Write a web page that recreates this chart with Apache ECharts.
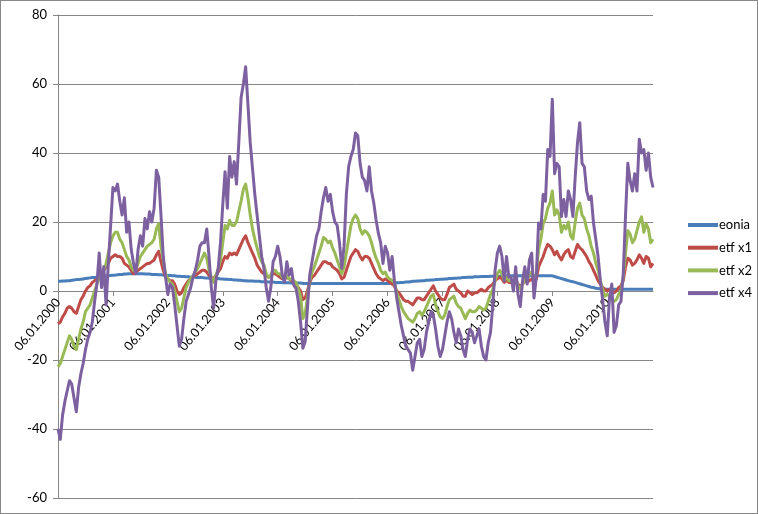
<!DOCTYPE html>
<html>
<head>
<meta charset="utf-8">
<script src="https://cdn.jsdelivr.net/npm/echarts@6/dist/echarts.min.js"></script>
<style>
html,body{margin:0;padding:0;background:#fff;}
#chart{width:758px;height:514px;box-sizing:border-box;border:1px solid #888;}
</style>
</head>
<body>
<div id="chart"></div>
<script>
// Category dates: semi-monthly observations from 06.01.2000 to 06.11.2010
const years = [2000,2001,2002,2003,2004,2005,2006,2007,2008,2009,2010];
const days = ['06','21'];
const lastCategory = '06.11.2010';
const categories = [];
(function(){
  let done = false;
  for (const y of years) {
    for (let m = 1; m <= 12 && !done; m++) {
      for (const d of days) {
        const s = d + '.' + (m < 10 ? '0' + m : '' + m) + '.' + y;
        categories.push(s);
        if (s === lastCategory) { done = true; break; }
      }
    }
  }
})();

const seriesNames = ['eonia','etf x1','etf x2','etf x4'];

const eonia = [
 2.8,2.8,2.9,2.9,3.0,3.0,3.1,3.2,3.3,3.3,3.4,3.5,3.6,3.7,3.8,3.9,3.9,4.0,4.1,4.2,4.3,4.4,4.4,4.5,
 4.6,4.6,4.7,4.8,4.8,4.9,4.9,5.0,5.0,5.0,5.0,5.0,5.0,5.0,4.9,4.9,4.9,4.8,4.8,4.8,4.7,4.7,4.6,4.6,
 4.5,4.5,4.4,4.4,4.3,4.3,4.2,4.2,4.1,4.1,4.0,4.0,4.0,3.9,3.9,3.9,3.8,3.8,3.7,3.7,3.7,3.6,3.6,3.5,
 3.5,3.4,3.4,3.3,3.3,3.2,3.2,3.1,3.1,3.0,3.0,2.9,2.9,2.9,2.8,2.8,2.8,2.7,2.7,2.7,2.6,2.6,2.6,2.5,
 2.5,2.5,2.4,2.4,2.4,2.4,2.3,2.3,2.3,2.3,2.3,2.2,2.2,2.2,2.2,2.2,2.2,2.2,2.2,2.2,2.2,2.2,2.2,2.2,
 2.2,2.2,2.2,2.2,2.2,2.2,2.2,2.2,2.2,2.2,2.2,2.2,2.2,2.2,2.2,2.2,2.2,2.2,2.2,2.2,2.2,2.2,2.2,2.2,
 2.2,2.2,2.3,2.3,2.4,2.4,2.5,2.5,2.6,2.6,2.7,2.8,2.8,2.9,2.9,3.0,3.0,3.1,3.1,3.2,3.2,3.3,3.3,3.4,
 3.4,3.5,3.5,3.6,3.6,3.7,3.7,3.8,3.8,3.9,3.9,4.0,4.0,4.0,4.1,4.1,4.1,4.2,4.2,4.2,4.2,4.3,4.3,4.3,
 4.3,4.3,4.4,4.4,4.4,4.4,4.4,4.4,4.4,4.4,4.4,4.4,4.4,4.4,4.4,4.4,4.4,4.4,4.4,4.4,4.4,4.4,4.4,4.4,
 4.4,4.2,4.0,3.8,3.6,3.4,3.2,3.0,2.8,2.7,2.5,2.3,2.1,1.9,1.7,1.5,1.3,1.1,1.0,0.8,0.7,0.6,0.6,0.5,
 0.5,0.5,0.5,0.5,0.5,0.5,0.5,0.5,0.5,0.5,0.5,0.5,0.5,0.5,0.5,0.5,0.5,0.5,0.5,0.5,0.5
];

const etfX1 = [
 -9.5,-9,-7.5,-6.5,-5,-4.5,-5,-6,-6.5,-4.5,-2.5,-1.5,0,1,1.5,2.5,3,3.5,5,5.5,6,7,8,9.5,
 10,10.5,10,10,9.5,8,7.5,7,6,5,5.5,6,6.5,7,7.5,8,8,8.5,9,10.5,11.5,8.5,6,4,
 3.5,3,3,2,0,-1,-0.5,1,2,3,3.5,4,4.5,5,5.5,6,6,5.5,4.5,4,3.5,4.5,5.5,6.5,
 8.5,10,9.5,11,10.5,11,10.5,12,13.5,15,16,14,12.5,11,9.5,7.5,6.5,5.5,5,4.5,4,4.5,5,5,
 4.5,4,3.5,3.5,4,3.5,3,2.5,2,1,0,-2.5,-2,0,2.5,4,4.5,5.5,6.5,7.5,8.5,8.5,8,8,
 7,6.5,6,5,3.5,4,6,8,10,11,12,11.5,10,9,10,10,9.5,8,6.5,5,4,3.5,3,3.5,
 3,2.5,2,1.5,0,-0.5,-1.5,-2.5,-3,-3,-3.5,-4,-3,-2,-2,-2.5,-2.5,-1.5,-0.5,0.5,1.5,0,-1,-2,
 -2.5,-2.5,-1,1,1.5,2,0.5,0,-0.5,-1.5,-1.5,0,-0.5,-1,-0.5,-0.5,0,0.5,0,0,1,1.5,2,3,
 3.5,4,3.5,2.5,3,2.5,2.5,2,3,2,1.5,2,3,2.5,3,3.5,2.5,3.5,7,8.5,10,12,13.5,13,
 12,10.5,11.5,10,9,10.5,11.5,12,10,9.5,11.5,13.5,12.5,12,11,10,8.5,7.5,6,4.5,3,2,1,0.5,
 0,0.5,0,-0.5,0,1,1.5,3,7,9.5,9,7.5,8,9,10.5,9.5,8,10,9.5,7,8
];

const etfX2 = [
 -22,-21,-19,-17,-15,-13,-14,-16,-17,-14,-11,-9,-6,-5,-4,-2,0,2,4,5,6,8,11,14,
 16,17,17,15,14,12,10,9,7,6,6,8,10,11,12,13,13.5,14,15,18,19.5,13,9,5,
 3.5,2.5,2,0,-3,-6,-5,-2,1,2.5,3.5,4.5,5.5,6.5,8,9.5,11,9.5,6,4,2.5,4.5,6.5,9,
 14,19,18,20.5,19,19,20,23,26,29.5,31,27,22,18,15,12.5,10,8.5,7.5,5,4,4.5,6,6,
 5,5,4,3.5,4.5,3.5,3.5,3,2.5,0.5,-1.5,-8,-6.5,-2,3,5.5,7,9,11,13,15.5,15,14,14.5,
 12.5,11,9,7,5,7,11,15,19,21,22,21,18,16.5,17.5,17,16,14,11.5,9.5,8,6,5,5.5,
 4,3.5,3,2.5,-0.5,-2.5,-4.5,-6,-7,-8,-8.5,-9,-8,-6.5,-6,-7,-6,-4.5,-3,-1.5,-1,-4,-6,-7.5,
 -8,-7,-4.5,-2.5,-2,-1.5,-3.5,-4.5,-5,-6.5,-8,-6.5,-5.5,-6,-6,-5.5,-4.5,-5,-5.5,-5,-3,-1,0.5,3,
 5,6,5,3,4,3,3,2,4,1.5,0.5,2,4,3,5,5.5,3,5,12,15,19.5,21,24,25.5,
 29,22,23.5,22,17,19,18,20,16,15,20,24,25.5,22,21,18,16,13,11,8,6,3,0.5,-1.5,
 -1,-1.5,-2,-3,-2.5,-1,0,4,11,17.5,16.5,14,15,17.5,20,21.5,17,19.5,18,14,15
];

const etfX4 = [
 -40,-43,-36,-32,-29,-26,-27,-31,-35,-28,-24,-21,-17,-14,-12,-9,-3,2,11,1,7,-4,8,19,
 30,29,31,26,22,27,17,20,12,8,5,12,16,13,21,18,23,20,24,35,33,22,10,4,
 -1,2,1,-4,-10,-16,-14,-8,-3,-1,1,4,6,9,13,14,14,18,10,1,-5,3,6.5,14,
 25,34.6,24,39,33,37.5,31,43,56,60,65,54,43,35.5,28,22,16,10,6.5,1,-3,1,8.5,10,
 13,10,4.6,2.7,8.5,4.6,6.5,1.7,0.8,-3,-9,-16.6,-14.7,-5,4.6,8.5,12.4,16,18,23,27,30,26,28,
 23,20,19,14,6.6,13,28,36,39,41,45.8,45,37,33,32,29,36,29,25.5,20.6,16.7,14,8,13,
 11,6,10,3,-2,-6,-10,-13,-16,-17,-18,-23,-19,-15,-14,-19,-17,-12,-9,-6,-7,-11,-16,-19,
 -17,-13,-9,-6,-8,-12,-15,-11,-13,-17,-19,-14,-11,-12,-15,-13,-11,-16,-19,-20,-15,-12,-4,6,
 11,13,10,3,10,4,4,0,7,-1,-4.5,3,7,2,9,11,-2,4,19.7,18,28,26,41,39,
 55.6,34,37,36,21.6,26.5,21.6,29,26.5,21.6,33,43,48.8,37,36,29,26.5,27.5,19.7,15,10,3,-2.6,-9,
 -13,-2,2,-12,-10,-4,-3,5,22,37,32,29,34,29,44,40,41,35,40,33,30
];

const yTicks = {min: -60, max: 80, interval: 20};
const colors = ['#4A7EBB','#BE4B48','#98B954','#7D60A0'];
const values = [eonia, etfX1, etfX2, etfX4];

const isYearStart = (idx, val) => String(val != null ? val : categories[idx]).indexOf('06.01.') === 0;

const chart = echarts.init(document.getElementById('chart'), null, {renderer: 'canvas'});
chart.setOption({
  animation: false,
  backgroundColor: '#fff',
  textStyle: {fontFamily: 'Lato, "Liberation Sans", sans-serif'},
  grid: {left: 57, right: 104, top: 14, bottom: 15, containLabel: false, outerBoundsMode: 'none'},
  legend: {
    orient: 'vertical',
    left: 682,
    top: 212,
    icon: 'rect',
    itemWidth: 30,
    itemHeight: 4,
    itemGap: 8.7,
    textStyle: {fontSize: 13, lineHeight: 14, color: '#000', fontFamily: 'Lato, sans-serif', padding: [0,0,0,-4]},
    data: seriesNames
  },
  xAxis: {
    type: 'category',
    data: categories,
    boundaryGap: false,
    axisLine: {onZero: false, lineStyle: {color: '#868686', width: 1}},
    axisTick: {show: true, interval: isYearStart, length: 5, inside: false, lineStyle: {color: '#868686'}},
    axisLabel: {interval: isYearStart, rotate: 50, margin: 9, fontSize: 12.5, color: '#000', fontFamily: 'Lato, sans-serif'},
    splitLine: {show: false}
  },
  yAxis: {
    type: 'value',
    min: yTicks.min, max: yTicks.max, interval: yTicks.interval,
    axisLine: {show: true, lineStyle: {color: '#868686', width: 1}},
    axisTick: {show: true, length: 5, lineStyle: {color: '#868686'}},
    axisLabel: {fontSize: 13, color: '#000', margin: 11, fontFamily: 'Lato, sans-serif'},
    splitLine: {show: true, lineStyle: {color: '#868686', width: 1}}
  },
  series: seriesNames.map((n, k) => ({
    name: n,
    type: 'line',
    data: values[k],
    symbol: 'none',
    showSymbol: false,
    smooth: false,
    sampling: null,
    color: colors[k],
    lineStyle: {width: 3, color: colors[k], join: 'round'},
    z: 2 + k
  }))
});
// Place the category axis on the value-axis zero line (computed through the library's scale)
const yZero = chart.convertToPixel({yAxisIndex: 0}, 0);
const yBottom = chart.convertToPixel({yAxisIndex: 0}, yTicks.min);
chart.setOption({xAxis: {offset: -(yBottom - yZero)}});
</script>
</body>
</html>
